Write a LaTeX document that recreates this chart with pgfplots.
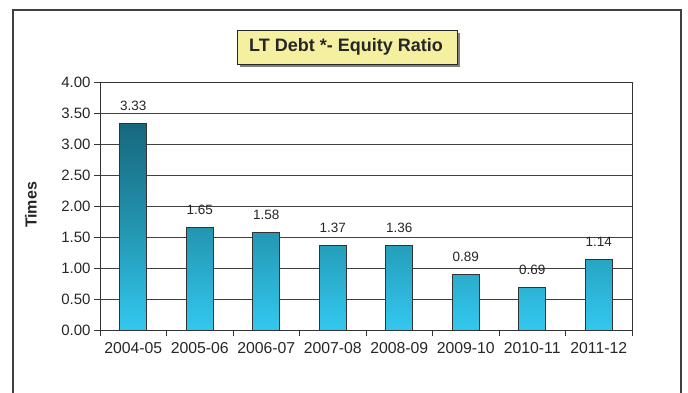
\documentclass[border=0pt]{standalone}
\usepackage{pgfplots}
\pgfplotsset{compat=1.18}
\usepackage{fontspec}
\setmainfont{Liberation Sans}
\definecolor{bartop}{HTML}{17687E}
\definecolor{barmid}{HTML}{2394B0}
\definecolor{barbot}{HTML}{33C8F0}
\definecolor{titlefill}{HTML}{F5F0A0}
\begin{document}
\begin{tikzpicture}[x=1pt,y=1pt]
\useasboundingbox (0,0) rectangle (688,392);
\draw[line width=1.3pt, draw=black!75] (13,-5) -- (13,382) -- (681,382) -- (681,-5);
\begin{axis}[
  at={(100pt,62pt)}, anchor=south west,
  scale only axis, width=532pt, height=248pt,
  ymin=0, ymax=4, ytick={0,0.5,...,4},
  xmin=-0.5, xmax=7.5,
  xtick={-0.5,0.5,...,7.5},
  x tick label as interval,
  xticklabels={2004-05,2005-06,2006-07,2007-08,2008-09,2009-10,2010-11,2011-12},
  ymajorgrids, grid style={black!75, line width=0.9pt},
  axis line style={black!80, line width=0.9pt},
  every tick/.style={black!80, line width=0.9pt},
  tick pos=left, tick align=outside, major tick length=6pt,
  yticklabel style={/pgf/number format/.cd, fixed, fixed zerofill, precision=2},
  /pgf/number format/assume math mode=true,
  ticklabel style={font=\fontsize{15}{15}\selectfont, text=black!85},
  xticklabel style={font=\fontsize{15.8}{16}\selectfont, yshift=-3pt},
  ybar, bar width=27pt,
  nodes near coords, nodes near coords style={font=\fontsize{13.5}{14}\selectfont, text=black!85, yshift=9pt, /pgf/number format/.cd, fixed, fixed zerofill, precision=2, assume math mode=true},
]
\addplot[draw=black!80, line width=0.8pt, top color=bartop, bottom color=barbot, middle color=barmid] coordinates {
(0,3.33) (1,1.65) (2,1.58) (3,1.37) (4,1.36) (5,0.89) (6,0.69) (7,1.14)};
\end{axis}
\node[rotate=90, font=\fontsize{16}{16}\selectfont\bfseries, text=black!85] at (31,187) {Times};
\fill[black!50] (240,325) rectangle (460,359);
\draw[fill=titlefill, draw=black!85, line width=0.9pt] (237,328) rectangle (457,362);
\node[font=\fontsize{18}{18}\selectfont\bfseries, text=black!85] at (346,345) {LT Debt *- Equity Ratio};
\end{tikzpicture}
\end{document}
